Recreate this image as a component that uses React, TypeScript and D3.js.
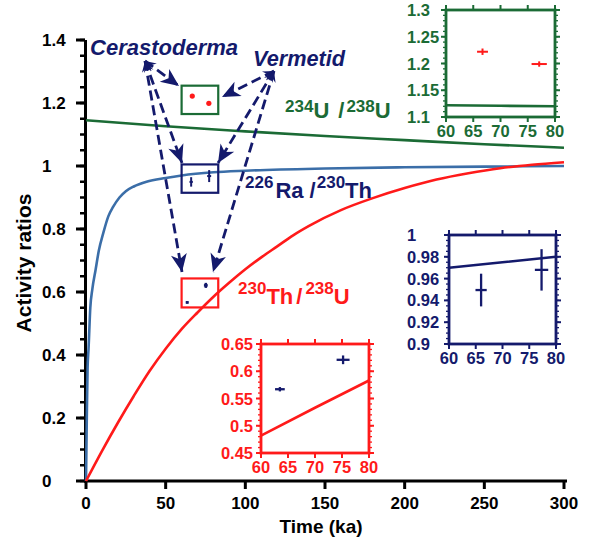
import React from "react";
import * as d3 from "d3";

// model curves (time in ka)
const uTime = [0, 50, 100, 150, 200, 250, 300];
const uValues = [1.145, 1.126, 1.11, 1.095, 1.082, 1.069, 1.058];

const raTime = [0, 0.5, 1, 1.6, 2.7, 4, 6, 8, 11, 14, 17, 21, 25, 30, 38, 50, 60, 80, 100, 150, 200, 250, 300];
const raValues = [0, 0.2, 0.36, 0.42, 0.55, 0.61, 0.67, 0.73, 0.79, 0.84, 0.87, 0.9, 0.92, 0.935, 0.95, 0.962, 0.97, 0.98, 0.985, 0.992, 0.996, 0.998, 1.0];

const thTime = [0, 10, 20, 30, 40, 50, 60, 70, 80, 90, 100, 110, 120, 130, 140, 160, 180, 200, 220, 240, 260, 280, 300];
const thValues = [0, 0.095, 0.185, 0.27, 0.35, 0.42, 0.482, 0.535, 0.585, 0.63, 0.672, 0.71, 0.745, 0.78, 0.81, 0.86, 0.898, 0.93, 0.957, 0.977, 0.993, 1.004, 1.012];

// inset curve segments
const insetTime = [60, 70, 80];
const insetU = [1.122, 1.121, 1.12];
const insetRa = [0.97, 0.975, 0.98];
const insetTh = [0.482, 0.533, 0.583];

// samples: age, age error, ratio, ratio error
const sampleAge = [66.7, 77.1];
const sampleAgeErr = [1.0, 1.4];
const uRatio = [1.222, 1.199];
const uRatioErr = [0.006, 0.005];

const raAge = [66.0, 77.3];
const raAgeErr = [1.05, 1.25];
const raRatio = [0.9495, 0.968];
const raRatioErr = [0.015, 0.019];

const thAge = [63.5, 75.2];
const thAgeErr = [0.9, 1.2];
const thRatio = [0.567, 0.621];
const thRatioErr = [0.004, 0.008];

const xTicks = [0, 50, 100, 150, 200, 250, 300];
const yTicks = [0, 0.2, 0.4, 0.6, 0.8, 1, 1.2, 1.4];
const insetXTicks = [60, 65, 70, 75, 80];
const uInsetTicks = [1.1, 1.15, 1.2, 1.25, 1.3];
const raInsetTicks = [0.9, 0.92, 0.94, 0.96, 0.98, 1];
const thInsetTicks = [0.45, 0.5, 0.55, 0.6, 0.65];

const navy = "#141a6c";
const green = "#1b6b35";
const blue = "#3b6ea8";
const red = "#ff1a1a";
const FONT = "'Liberation Sans', Arial, sans-serif";

const x = d3.scaleLinear().domain([0, 300]).range([86, 564]);
const y = d3.scaleLinear().domain([0, 1.4]).range([481, 40]);

function curve(t: number[], v: number[]) {
  const line = d3
    .line<number>()
    .x((d, i) => x(t[i]))
    .y((d) => y(d))
    .curve(d3.curveMonotoneX);
  return line(v) || "";
}

function Crosses({ ages, ageErr, vals, valErr, sx, sy, color, w }: any) {
  return (
    <g stroke={color} strokeWidth={w}>
      {ages.map((a: number, i: number) => (
        <g key={i}>
          <line x1={sx(a - ageErr[i])} x2={sx(a + ageErr[i])} y1={sy(vals[i])} y2={sy(vals[i])} />
          <line x1={sx(a)} x2={sx(a)} y1={sy(vals[i] - valErr[i])} y2={sy(vals[i] + valErr[i])} />
        </g>
      ))}
    </g>
  );
}

function Inset(props: any) {
  const { left, top, width, height, yDomain, yTicks, minorStep, color, labelX, anchor, curveVals, children } = props;
  const sx = d3.scaleLinear().domain([60, 80]).range([left, left + width]);
  const sy = d3.scaleLinear().domain(yDomain).range([top + height, top]);
  const minors = d3.range(yDomain[0], yDomain[1] + 1e-9, minorStep);
  const line = d3
    .line<number>()
    .x((d, i) => sx(insetTime[i]))
    .y((d) => sy(d));
  return (
    <g fontFamily={FONT} fontWeight="bold" fontSize={16.5} fill={color}>
      {minors.map((m: number, i: number) => (
        <g key={"m" + i} stroke={color} strokeWidth={1.3}>
          <line x1={left - 3} x2={left} y1={sy(m)} y2={sy(m)} />
          <line x1={left + width} x2={left + width + 3} y1={sy(m)} y2={sy(m)} />
        </g>
      ))}
      {yTicks.map((t: number) => (
        <g key={"y" + t}>
          <line x1={left - 5} x2={left} y1={sy(t)} y2={sy(t)} stroke={color} strokeWidth={2} />
          <line x1={left + width} x2={left + width + 5} y1={sy(t)} y2={sy(t)} stroke={color} strokeWidth={2} />
          <text x={labelX} y={sy(t) + 6} textAnchor={anchor}>
            {String(t)}
          </text>
        </g>
      ))}
      {insetXTicks.map((t) => (
        <g key={"x" + t}>
          <line x1={sx(t)} x2={sx(t)} y1={top - 5} y2={top} stroke={color} strokeWidth={2} />
          <line x1={sx(t)} x2={sx(t)} y1={top + height} y2={top + height + 5} stroke={color} strokeWidth={2} />
          <text x={sx(t)} y={top + height + 19.5} textAnchor="middle">
            {String(t)}
          </text>
        </g>
      ))}
      <rect x={left} y={top} width={width} height={height} fill="none" stroke={color} strokeWidth={2.8} />
      <path d={line(curveVals) || ""} fill="none" stroke={color} strokeWidth={2.6} />
      {children(sx, sy)}
    </g>
  );
}

const arrows = [
  [145, 61, 179, 86],
  [145, 61, 182, 163],
  [145, 61, 182, 272],
  [274, 71, 222, 97],
  [274, 71, 218, 163],
  [274, 71, 213, 272],
];

export default function App() {
  const minorY = d3.range(0, 1.4 + 1e-9, 0.05);
  return (
    <svg
      width={593}
      height={543}
      style={{ position: "absolute", left: 0, top: 0, background: "#fff" }}
      fontFamily={FONT}
    >
      <defs>
        <marker id="head" markerUnits="userSpaceOnUse" viewBox="-19 -9 20 18" markerWidth={20} markerHeight={18} refX={0} refY={0} orient="auto">
          <path d="M0,0 L-18,-8 L-13,0 L-18,8 Z" fill={navy} />
        </marker>
        <marker id="tail" markerUnits="userSpaceOnUse" viewBox="-11 -6 12 12" markerWidth={12} markerHeight={12} refX={0} refY={0} orient="auto-start-reverse">
          <path d="M0,0 L-11,-5 L-7,0 L-11,5 Z" fill={navy} />
        </marker>
      </defs>

      {/* axes */}
      <g stroke="#000" strokeWidth={3}>
        <line x1={85.5} x2={85.5} y1={y(1.4)} y2={y(0) + 1.5} />
        <line x1={84} x2={567} y1={y(0)} y2={y(0)} />
        {minorY.map((m, i) => (
          <line key={i} x1={80} x2={85} y1={y(m)} y2={y(m)} strokeWidth={2.5} />
        ))}
        {yTicks.map((t) => (
          <line key={t} x1={76} x2={85} y1={y(t)} y2={y(t)} />
        ))}
        {xTicks.map((t) => (
          <line key={t} x1={x(t)} x2={x(t)} y1={y(0)} y2={y(0) + 8} />
        ))}
      </g>
      <g fontWeight="bold" fontSize={17} fill="#000">
        {yTicks.map((t) => (
          <text key={t} x={42} y={y(t) + 6}>
            {String(+t.toFixed(1))}
          </text>
        ))}
        {xTicks.map((t) => (
          <text key={t} x={x(t)} y={508.5} textAnchor="middle">
            {t}
          </text>
        ))}
        <text x={321} y={533} textAnchor="middle" fontSize={19}>
          Time (ka)
        </text>
        <text transform="translate(31,263) rotate(-90)" textAnchor="middle" fontSize={21}>
          Activity ratios
        </text>
      </g>

      {/* curves */}
      <path d={curve(uTime, uValues)} fill="none" stroke={green} strokeWidth={2.6} />
      <path d={curve(raTime, raValues)} fill="none" stroke={blue} strokeWidth={2.6} />
      <path d={curve(thTime, thValues)} fill="none" stroke={red} strokeWidth={2.6} />

      {/* sample boxes */}
      <rect x={x(60)} y={y(1.255)} width={x(83) - x(60)} height={y(1.165) - y(1.255)} fill="none" stroke={green} strokeWidth={2.2} />
      <rect x={x(60)} y={y(1.005)} width={x(83) - x(60)} height={y(0.915) - y(1.005)} fill="none" stroke={navy} strokeWidth={2.2} />
      <rect x={x(60)} y={y(0.643)} width={x(83) - x(60)} height={y(0.551) - y(0.643)} fill="none" stroke={red} strokeWidth={2.2} />
      {sampleAge.map((a, i) => (
        <circle key={i} cx={x(a)} cy={y(uRatio[i])} r={2.6} fill={red} />
      ))}
      <Crosses ages={raAge} ageErr={raAgeErr} vals={raRatio} valErr={raRatioErr} sx={x} sy={y} color={navy} w={2} />
      <Crosses ages={thAge} ageErr={thAgeErr} vals={thRatio} valErr={thRatioErr} sx={x} sy={y} color={navy} w={2.5} />

      {/* arrows */}
      <g stroke={navy} strokeWidth={2.8} strokeDasharray="10 5" fill="none">
        {arrows.map((a, i) => (
          <line key={i} x1={a[0]} y1={a[1]} x2={a[2]} y2={a[3]} markerEnd="url(#head)" markerStart="url(#tail)" />
        ))}
      </g>

      {/* labels */}
      <g fontWeight="bold" fontStyle="italic" fontSize={21.5} fill={navy}>
        <text x={90} y={55} textLength={148} lengthAdjust="spacingAndGlyphs">Cerastoderma</text>
        <text x={253} y={65.5} textLength={92} lengthAdjust="spacingAndGlyphs">Vermetid</text>
      </g>
      <text x={285} y={117.5} fill={green} fontWeight="bold" fontSize={22}>
        <tspan fontSize={17} dy={-6}>234</tspan>
        <tspan dy={6}>U</tspan>
        <tspan dx={9}>/</tspan>
        <tspan fontSize={17} dy={-6} dx={2}>238</tspan>
        <tspan dy={6}>U</tspan>
      </text>
      <text x={245} y={198} fill={navy} fontWeight="bold" fontSize={22}>
        <tspan fontSize={17} dy={-10}>226</tspan>
        <tspan dy={10} dx={2}>Ra /</tspan>
        <tspan fontSize={17} dy={-10} dx={1}>230</tspan>
        <tspan dy={10}>Th</tspan>
      </text>
      <text x={238} y={304} fill={red} fontWeight="bold" fontSize={22}>
        <tspan fontSize={17} dy={-10.5}>230</tspan>
        <tspan dy={10.5}>Th</tspan>
        <tspan dx={3}>/</tspan>
        <tspan fontSize={17} dy={-10.5} dx={3}>238</tspan>
        <tspan dy={10.5}>U</tspan>
      </text>

      {/* insets */}
      <Inset left={446} top={10} width={109} height={107} yDomain={[1.1, 1.3]} yTicks={uInsetTicks} minorStep={0.01} color={green} labelX={407} anchor="start" curveVals={insetU}>
        {(sx: any, sy: any) => (
          <Crosses ages={sampleAge} ageErr={sampleAgeErr} vals={uRatio} valErr={uRatioErr} sx={sx} sy={sy} color={red} w={2} />
        )}
      </Inset>
      <Inset left={449} top={235} width={107} height={109} yDomain={[0.9, 1.0]} yTicks={raInsetTicks} minorStep={0.005} color={navy} labelX={407} anchor="start" curveVals={insetRa}>
        {(sx: any, sy: any) => (
          <Crosses ages={raAge} ageErr={raAgeErr} vals={raRatio} valErr={raRatioErr} sx={sx} sy={sy} color={navy} w={2.3} />
        )}
      </Inset>
      <Inset left={261} top={344} width={108} height={109} yDomain={[0.45, 0.65]} yTicks={thInsetTicks} minorStep={0.01} color={red} labelX={253} anchor="end" curveVals={insetTh}>
        {(sx: any, sy: any) => (
          <Crosses ages={thAge} ageErr={thAgeErr} vals={thRatio} valErr={thRatioErr} sx={sx} sy={sy} color={navy} w={2.3} />
        )}
      </Inset>
    </svg>
  );
}
